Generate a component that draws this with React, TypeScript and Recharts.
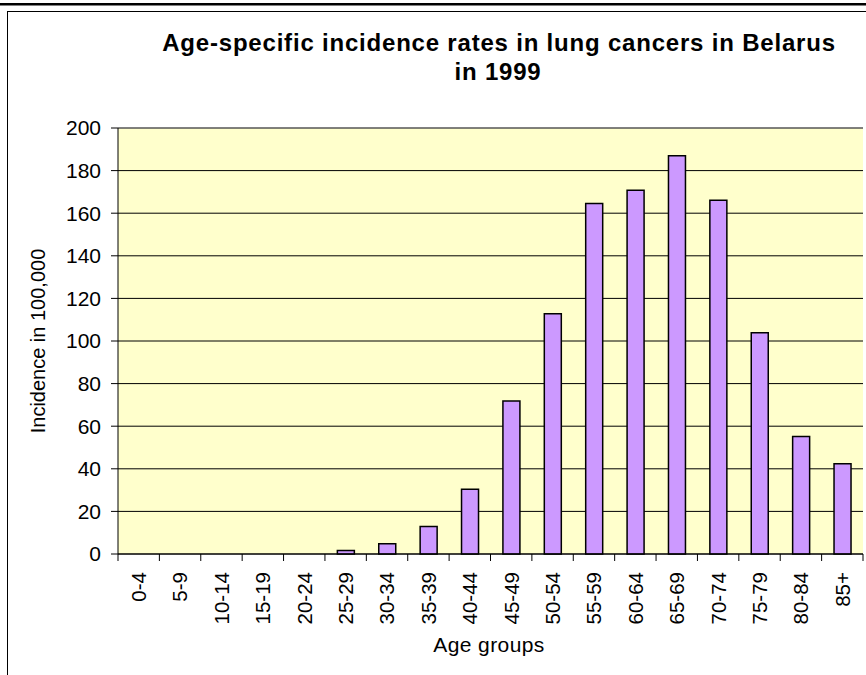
import { BarChart, Bar, XAxis, YAxis, CartesianGrid, ReferenceLine } from 'recharts';

const AGE_GROUPS = ['0-4', '5-9', '10-14', '15-19', '20-24', '25-29', '30-34', '35-39', '40-44',
  '45-49', '50-54', '55-59', '60-64', '65-69', '70-74', '75-79', '80-84', '85+'];
const INCIDENCE = [0, 0, 0, 0, 0, 1.6, 4.8, 12.9, 30.4, 71.8, 112.8, 164.5, 170.8, 187.0, 166.1, 103.9, 55.2, 42.4];
const Y_TICKS = [0, 20, 40, 60, 80, 100, 120, 140, 160, 180, 200];

const data = AGE_GROUPS.map((group, i) => ({ group, value: INCIDENCE[i] }));

const FONT = "'Liberation Sans', Arial, sans-serif";
const W = 866;
const H = 675;
const PLOT_LEFT = 118;
const PLOT_RIGHT = 863;
const PLOT_TOP = 128;
const PLOT_BOTTOM = 554;
const BAND = (PLOT_RIGHT - PLOT_LEFT) / AGE_GROUPS.length;

const AgeTick = (props: any) => {
  const { x, payload, index } = props;
  const left = x - BAND / 2;
  return (
    <g>
      <line x1={left} x2={left} y1={PLOT_BOTTOM} y2={PLOT_BOTTOM + 7} stroke="#000" />
      {index === AGE_GROUPS.length - 1 && (
        <line x1={left + BAND} x2={left + BAND} y1={PLOT_BOTTOM} y2={PLOT_BOTTOM + 7} stroke="#000" />
      )}
      <text
        transform={`translate(${x},${PLOT_BOTTOM + 18}) rotate(-90)`}
        textAnchor="end"
        dy="0.36em"
        fontSize={20.5}
        fontFamily={FONT}
        fill="#000"
      >
        {payload.value}
      </text>
    </g>
  );
};

export default function App() {
  return (
    <div style={{ position: 'absolute', left: 0, top: 0, width: W, height: H, background: '#fff' }}>
      <BarChart
        width={W}
        height={H}
        data={data}
        margin={{ top: PLOT_TOP, right: W - PLOT_RIGHT, bottom: 0, left: 0 }}
        barCategoryGap="30%"
      >
        <CartesianGrid vertical={false} stroke="#000" fill="#FFFFCC" fillOpacity={1} />
        <XAxis
          dataKey="group"
          height={H - PLOT_BOTTOM}
          interval={0}
          tickLine={false}
          axisLine={{ stroke: '#000' }}
          tick={<AgeTick />}
        />
        <YAxis
          width={PLOT_LEFT}
          domain={[0, 200]}
          ticks={Y_TICKS}
          interval={0}
          tickSize={7}
          tickMargin={10}
          axisLine={{ stroke: '#000' }}
          tickLine={{ stroke: '#000' }}
          tick={{ fontSize: 21, fontFamily: FONT, fill: '#000' }}
        />
        <YAxis
          yAxisId="border"
          orientation="right"
          width={0}
          domain={[0, 200]}
          tick={false}
          tickLine={false}
          axisLine={{ stroke: '#808080' }}
        />
        <ReferenceLine y={200} stroke="#808080" />
        <Bar
          dataKey="value"
          fill="#CC99FF"
          stroke="#000"
          strokeWidth={1.5}
          isAnimationActive={false}
        />
      </BarChart>
      <svg
        width={W}
        height={H}
        style={{ position: 'absolute', left: 0, top: 0, pointerEvents: 'none' }}
      >
        <rect x={0} y={3} width={W} height={2.5} fill="#000" />
        <line x1={7} x2={W} y1={11.5} y2={11.5} stroke="#000" />
        <line x1={7.5} x2={7.5} y1={11} y2={H} stroke="#000" />
        <text x={499} y={51} textAnchor="middle" fontSize={24} fontWeight="bold" fontFamily={FONT} letterSpacing={0.8}>
          Age-specific incidence rates in lung cancers in Belarus
        </text>
        <text x={498} y={80} textAnchor="middle" fontSize={24} fontWeight="bold" fontFamily={FONT} letterSpacing={0.8}>
          in 1999
        </text>
        <text
          transform={`translate(45,${(PLOT_TOP + PLOT_BOTTOM) / 2}) rotate(-90)`}
          textAnchor="middle"
          fontSize={20}
          fontFamily={FONT}
        >
          Incidence in 100,000
        </text>
        <text x={489} y={652} textAnchor="middle" fontSize={21} fontFamily={FONT} letterSpacing={0.4}>
          Age groups
        </text>
      </svg>
    </div>
  );
}
